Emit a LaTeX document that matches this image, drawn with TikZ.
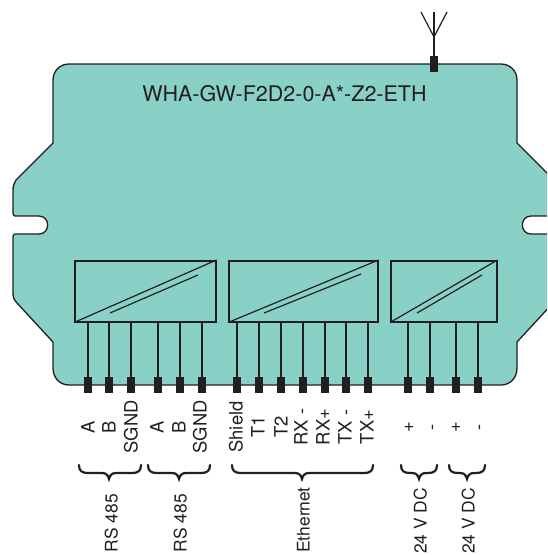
\documentclass[tikz,border=0pt]{standalone}
\usepackage{fontspec}
\setmainfont{TeX Gyre Heros}
\definecolor{bodyteal}{HTML}{89D0C6}
\definecolor{inkdark}{HTML}{231F20}
\tikzset{
  housing/.style={draw=inkdark,line width=1.3pt,fill=bodyteal,line join=round},
  isobox/.style={draw=inkdark,line width=1.5pt,rectangle,inner sep=0pt,anchor=north west},
  wire/.style={draw=inkdark,line width=1.2pt},
  terminal/.style={fill=inkdark,rectangle,inner sep=0pt,minimum width=8pt,minimum height=16pt},
  pinlabel/.style={rotate=90,inner sep=0pt,text=inkdark,font=\fontsize{18.4}{18}\selectfont,text height=13pt,text depth=0pt},
  grouplabel/.style={pinlabel,anchor=east,font=\fontsize{17.4}{18}\selectfont},
  titlelabel/.style={inner sep=0pt,text=inkdark,font=\fontsize{21.5}{22}\selectfont},
  bracket/.style={draw=inkdark,line width=2.2pt,line cap=round}
}
\newcommand{\brc}[3]{% left, tip, right
  \draw[bracket] (#1,465) .. controls (#1,471) and (#1+3,473) .. (#1+9,473)
    -- (#2-7,473) .. controls (#2-3,473) and (#2-1,475) .. (#2,479)
    .. controls (#2+1,475) and (#2+3,473) .. (#2+7,473)
    -- (#3-9,473) .. controls (#3-3,473) and (#3,471) .. (#3,465);}
\begin{document}
\begin{tikzpicture}[x=1pt,y=-1pt]
\useasboundingbox (0,0) rectangle (547,555);
\clip (0,0) rectangle (547,555);
% housing
\path[housing] (69,64) -- (501,64) .. controls (510,64) and (517,71) .. (517,80)
  -- (517,143) -- (554,180) .. controls (556,183) and (557,186) .. (557,190)
  -- (557,213) .. controls (557,215) and (556,216) .. (555,216)
  -- (531,216) .. controls (519.5,216) and (519.5,234) .. (531,234)
  -- (555,234) .. controls (556,234) and (557,235) .. (557,237)
  -- (557,293) .. controls (557,297) and (556,300) .. (553,303)
  -- (517,342) -- (517,368) .. controls (517,378) and (510,385) .. (501,385)
  -- (69,385) .. controls (60,385) and (53,378) .. (53,368)
  -- (53,342) -- (17,303) .. controls (14,300) and (13,297) .. (13,293)
  -- (13,237) .. controls (13,235) and (14,234) .. (15,234)
  -- (39,234) .. controls (50.5,234) and (50.5,216) .. (39,216)
  -- (15,216) .. controls (14,216) and (13,215) .. (13,213)
  -- (13,190) .. controls (13,186) and (14,183) .. (16,180)
  -- (53,143) -- (53,80) .. controls (53,71) and (60,64) .. (69,64) -- cycle;
\node[titlelabel] (title) at (284.5,93.5) {WHA-GW-F2D2-0-A*-Z2-ETH};
% isolator boxes
\node[isobox,minimum width=141pt,minimum height=61pt] (box1) at (74,260) {};
\node[isobox,minimum width=149pt,minimum height=61pt] (box2) at (228,260) {};
\node[isobox,minimum width=106pt,minimum height=61pt] (box3) at (390,260) {};
\draw[wire] (box1.south west) -- (box1.north east);
\draw[wire] (box2.south west) -- (box2.north east);
\draw[wire] (box3.south west) -- (box3.north east);
\draw[wire] (110,313) -- (198,275);
\draw[wire] (264,313) -- (361,274);
\draw[wire] (417,313) -- (482,275);
% terminals and wires
\foreach \n/\x/\b in {a/88/box1,b/109/box1,c/131/box1,d/158/box1,e/180/box1,f/202/box1,
    g/237/box2,h/259/box2,i/281/box2,j/303/box2,k/325/box2,l/346/box2,m/368/box2,
    n/408/box3,o/430/box3,p/456/box3,q/478/box3}{
  \node[terminal] (t\n) at (\x,385) {};
  \draw[wire] (\b.south -| t\n) -- (t\n);
}
% antenna
\node[terminal] (tant) at (434,64) {};
\coordinate (fork) at (434,37);
\coordinate (tipl) at (421,12);
\coordinate (tipm) at (434,12);
\coordinate (tipr) at (447,12);
\draw[wire] (tant) -- (fork);
\draw[wire] (tipl) -- (fork) -- (tipr);
\draw[wire] (tipm) -- (fork);
% pin labels
\foreach \nm/\x/\t in {la/88/A,lb/109/B,lc/131/SGND,ld/157/A,le/179/B,lf/200/SGND,
    lg/236/Shield,lh/258/T1,li/281/T2,lj/301/RX -,lk/323/RX+,ll/345/TX -,lm/367/TX+,
    ln/407/+,lo/431/-,lp/454/+,lq/478/-}{
  \node[pinlabel] (\nm) at (\x,427) {\t};
}
% braces
\brc{79}{109}{141}
\brc{148}{179}{210}
\brc{232}{302}{373}
\brc{401}{419}{437}
\brc{449}{467}{485}
% group labels
\node[grouplabel] (g1) at (111,494) {RS 485};
\node[grouplabel] (g2) at (180,494) {RS 485};
\node[grouplabel] (g3) at (303,487) {Ethernet};
\node[grouplabel] (g4) at (420,488) {24 V DC};
\node[grouplabel] (g5) at (468,488) {24 V DC};
\end{tikzpicture}
\end{document}
